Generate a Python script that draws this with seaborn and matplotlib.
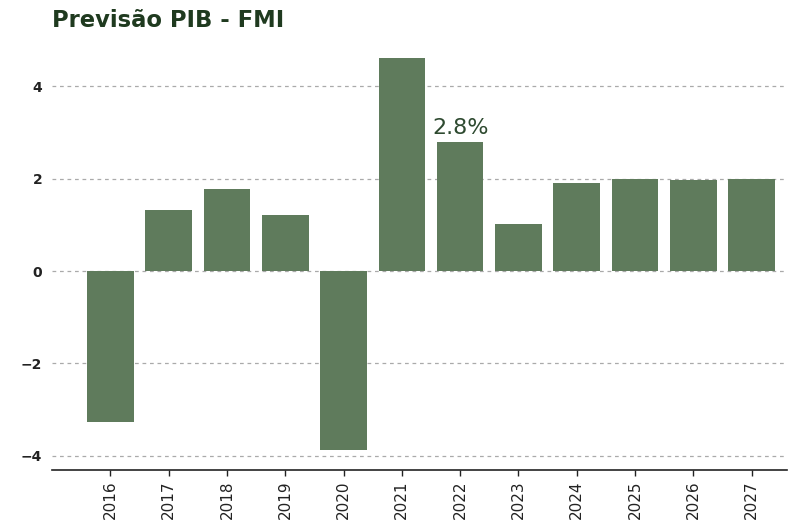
import matplotlib
matplotlib.use("Agg")
import matplotlib.pyplot as plt
import seaborn as sns
import pandas as pd

years = ["2016", "2017", "2018", "2019", "2020", "2021", "2022", "2023", "2024", "2025", "2026", "2027"]
gdp = [-3.28, 1.32, 1.78, 1.22, -3.88, 4.62, 2.8, 1.02, 1.9, 2.0, 1.98, 2.0]
highlight_year = "2022"
highlight_label = "2.8%"
title = "Previsão PIB - FMI"

df = pd.DataFrame({"ano": years, "pib": gdp})

sns.set_theme(style="white")
fig = plt.figure(figsize=(7.89, 5.22), dpi=100)
ax = fig.add_axes([0.066, 0.1, 0.931, 0.827])

sns.barplot(data=df, x="ano", y="pib", color="#5f7b5c", saturation=1, width=0.8,
            linewidth=0, ax=ax)

ax.grid(axis="y", linestyle=(0, (3, 3)), color="#aaaaaa", linewidth=0.9)
ax.set_axisbelow(True)
for s in ["top", "right", "left"]:
    ax.spines[s].set_visible(False)
ax.spines["bottom"].set_color("#222222")
ax.spines["bottom"].set_linewidth(1.2)

ax.set_yticks([-4, -2, 0, 2, 4])
ax.set_yticklabels(["\u22124", "\u22122", "0", "2", "4"])
ax.tick_params(axis="y", length=3, width=1, color="#333333", labelsize=10, pad=4)
ax.tick_params(axis="x", length=4, width=1, color="#222222", labelsize=11, rotation=90, bottom=True)
for t in ax.get_yticklabels():
    t.set_fontweight("bold")
    t.set_color("#222222")
for t in ax.get_xticklabels():
    t.set_color("#222222")

ax.set_xlim(-1.0, 11.6)
ax.margins(y=0.05)
ax.set_xlabel("")
ax.set_ylabel("")

idx = years.index(highlight_year)
ax.text(idx, gdp[idx] + 0.08, highlight_label, ha="center", va="bottom",
        fontsize=16, color="#2e4a30")

fig.text(0.066, 0.96, title, fontsize=16.3, fontweight="bold", color="#1f3a1f",
         ha="left", va="center")

fig.savefig("out.png", dpi=100)
